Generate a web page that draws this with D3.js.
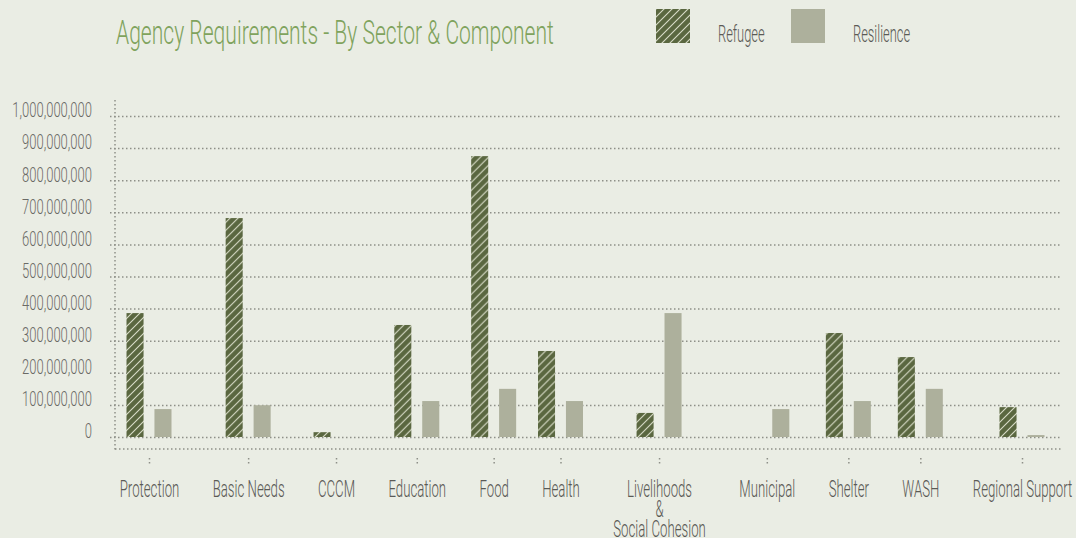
<!DOCTYPE html>
<html>
<head>
<meta charset="utf-8">
<title>Agency Requirements - By Sector &amp; Component</title>
<script src="https://cdn.jsdelivr.net/npm/d3@7"></script>
<style>
    * {
        margin: 0;
        padding: 0;
    }
    body { background: #eaede4; }
    svg {
        display: block;
        font-family: Roboto, "Liberation Sans", sans-serif;
        font-weight: 300;
    }
    .dots { stroke: #8e9088; stroke-width: 1.5; stroke-dasharray: 1.5,2.5; fill: none; }
    .ylab { fill: #6a6a66; font-size: 21px; }
    .xlab { fill: #5a5a56; font-size: 24px; }
    .leg  { fill: #5a5a56; font-size: 23px; }
    .title { fill: #7fa35d; font-size: 34px; }
</style>
</head>
<body>
<svg id="chart"></svg>
<script>
    // sectors (label lines split with \n)
    var sectors = ["Protection", "Basic Needs", "CCCM", "Education", "Food", "Health",
        "Livelihoods\n&\nSocial Cohesion", "Municipal", "Shelter", "WASH", "Regional Support"];
    var components = ["Refugee", "Resilience"];
    // USD requirements
    var refugee    = [386e6, 682e6, 15e6, 349e6, 875e6, 268e6, 75e6, 0, 324e6, 249e6, 93e6];
    var resilience = [87e6, 99e6, 0, 112e6, 150e6, 112e6, 386e6, 87e6, 112e6, 150e6, 6e6];
    var yTicks = [0, 1e8, 2e8, 3e8, 4e8, 5e8, 6e8, 7e8, 8e8, 9e8, 1e9];

    var W = 1076, H = 538;
    var colRef = "#5a6740", colRes = "#adb09c";
    // narrow the glyphs, the original font is a condensed one
    var sxTitle = 0.62, sxY = 0.62, sxX = 0.55, sxLeg = 0.56;

    var svg = d3.select("#chart").attr("width", W).attr("height", H);

    function squeeze(sel, s) {
        sel.attr("transform", function() {
            var x = +d3.select(this).attr("x") || 0;
            return "translate(" + x + ",0) scale(" + s + ",1) translate(" + (-x) + ",0)";
        });
    }

    // hatch for refugee bars
    var pat = svg.append("defs").append("pattern")
        .attr("id", "hatch")
        .attr("patternUnits", "userSpaceOnUse")
        .attr("width", 8).attr("height", 8);
    pat.append("rect").attr("width", 8).attr("height", 8).attr("fill", colRef);
    pat.append("path")
        .attr("d", "M-2,2L2,-2M0,8L8,0M6,10L10,6")
        .attr("stroke", "#d8dcc8").attr("stroke-width", 1.1);

    var fills = { Refugee: "url(#hatch)", Resilience: colRes };

    // y scale
    var y = d3.scaleLinear().domain([0, 1e9]).range([437, 116]);

    // x positions: columns sized by their label width, like a table row
    function addLabel(g, s) {
        var t = g.append("text").attr("class", "xlab").attr("text-anchor", "middle");
        s.split("\n").forEach(function(line, i) {
            t.append("tspan").attr("x", 0).attr("dy", i ? 20 : 0).text(line);
        });
        return t;
    }
    var tmp = svg.append("g");
    var widths = sectors.map(function(s) {
        return addLabel(tmp, s).node().getBBox().width * sxX;
    });
    tmp.remove();
    var acc = [0];
    for (var i = 1; i < sectors.length; i++) {
        acc.push(acc[i - 1] + (widths[i - 1] + widths[i]) / 2 + 33);
    }
    var pos = d3.scaleLinear().domain([0, acc[acc.length - 1]]).range([149, 1022]);
    var x = d3.scaleOrdinal().domain(sectors).range(acc.map(pos));

    var sub = d3.scaleBand().domain(components).range([-22.5, 22.5]).paddingInner(0.39);

    // grid + y labels
    var yAxis = svg.append("g")
        .attr("transform", "translate(110,0)")
        .call(d3.axisLeft(y).tickValues(yTicks).tickFormat(d3.format(","))
            .tickSize(-952).tickPadding(18));
    yAxis.select(".domain").remove();
    yAxis.selectAll(".tick line").attr("class", "dots").attr("stroke", null);
    yAxis.selectAll(".tick text")
        .attr("class", "ylab").attr("fill", null)
        .attr("dy", "0.04em")
        .call(squeeze, sxY);
    yAxis.attr("font-family", null).attr("font-size", null);

    // axis lines
    svg.append("line").attr("class", "dots")
        .attr("x1", 115).attr("x2", 115).attr("y1", 100).attr("y2", 450);
    svg.append("line").attr("class", "dots")
        .attr("x1", 115).attr("x2", 1062).attr("y1", 449).attr("y2", 449);

    // bars
    var rows = sectors.map(function(s, i) {
        return { sector: s, values: [
            { key: "Refugee", value: refugee[i] },
            { key: "Resilience", value: resilience[i] }] };
    });

    var groups = svg.selectAll(".sector")
        .data(rows)
        .enter().append("g")
        .attr("class", "sector")
        .attr("transform", function(d) { return "translate(" + x(d.sector) + ",0)"; });

    groups.selectAll("rect")
        .data(function(d) { return d.values.filter(function(v) { return v.value > 0; }); })
        .enter().append("rect")
        .attr("x", function(d) { return sub(d.key); })
        .attr("width", sub.bandwidth())
        .attr("y", function(d) { return y(d.value); })
        .attr("height", function(d) { return y(0) - y(d.value); })
        .attr("fill", function(d) { return fills[d.key]; });

    // x ticks and labels
    var xAxis = svg.append("g")
        .attr("transform", "translate(0,458)")
        .call(d3.axisBottom(x).tickSize(7).tickFormat(""));
    xAxis.select(".domain").remove();
    xAxis.selectAll(".tick line").attr("class", "dots").attr("stroke", null);
    xAxis.selectAll(".tick text").remove();
    xAxis.selectAll(".tick").each(function(d) {
        var t = addLabel(d3.select(this), d).attr("y", 39);
        t.selectAll("tspan").filter(function(_, i) { return i === 0; }).attr("y", 39);
        t.call(squeeze, sxX);
    });
    xAxis.attr("font-family", null).attr("font-size", null);

    // title
    svg.append("text")
        .attr("class", "title")
        .attr("x", 116).attr("y", 44)
        .text("Agency Requirements - By Sector & Component")
        .call(squeeze, sxTitle);

    // legend
    var legend = svg.selectAll(".legend")
        .data(components)
        .enter().append("g")
        .attr("class", "legend")
        .attr("transform", function(d, i) { return "translate(" + (656 + i * 135) + ",9)"; });

    legend.append("rect")
        .attr("width", 34).attr("height", 34)
        .attr("fill", function(d) { return fills[d]; });

    legend.append("text")
        .attr("class", "leg")
        .attr("x", 62).attr("y", 33)
        .text(function(d) { return d; })
        .call(squeeze, sxLeg);
</script>
</body>
</html>
